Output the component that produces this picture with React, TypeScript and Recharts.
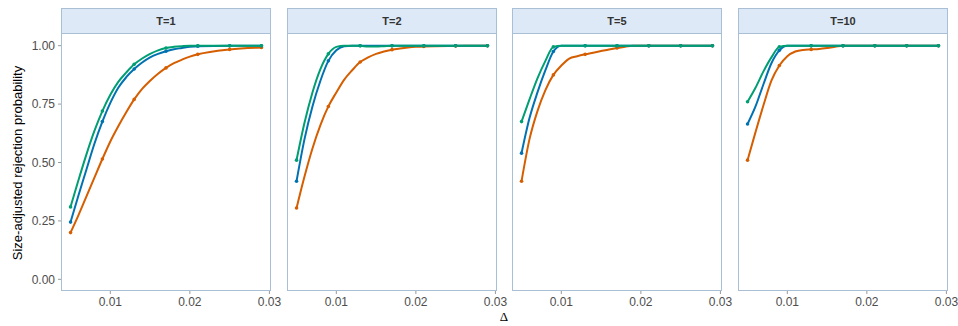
import React from 'react';
import { LineChart, Line, XAxis, YAxis } from 'recharts';

const deltas = [0.005, 0.006, 0.007, 0.008, 0.009, 0.010, 0.011, 0.012, 0.013, 0.014, 0.015, 0.016, 0.017, 0.018, 0.019, 0.020, 0.021, 0.025, 0.029];
const panelLabels = ['T=1', 'T=2', 'T=5', 'T=10'];
const xTicks = [0.01, 0.02, 0.03];
const yTicks = [0, 0.25, 0.5, 0.75, 1];
const markerDeltas = [0.005, 0.009, 0.013, 0.017, 0.021, 0.025, 0.029];

const orangeT1 = [0.20, 0.275, 0.355, 0.435, 0.515, 0.59, 0.655, 0.715, 0.77, 0.815, 0.85, 0.88, 0.905, 0.925, 0.94, 0.953, 0.963, 0.984, 0.992];
const blueT1 = [0.245, 0.36, 0.47, 0.58, 0.675, 0.755, 0.82, 0.865, 0.90, 0.928, 0.95, 0.965, 0.976, 0.985, 0.99, 0.995, 0.998, 1, 1];
const greenT1 = [0.31, 0.425, 0.535, 0.635, 0.72, 0.79, 0.845, 0.885, 0.92, 0.945, 0.965, 0.98, 0.99, 0.995, 0.998, 1, 1, 1, 1];

const orangeT2 = [0.305, 0.44, 0.56, 0.66, 0.74, 0.80, 0.855, 0.895, 0.93, 0.95, 0.965, 0.975, 0.983, 0.988, 0.992, 0.995, 0.997, 0.999, 1];
const blueT2 = [0.42, 0.60, 0.74, 0.85, 0.935, 0.98, 0.998, 1, 1, 1, 1, 1, 1, 1, 1, 1, 1, 1, 1];
const greenT2 = [0.51, 0.67, 0.80, 0.90, 0.965, 0.995, 1, 1, 1, 0.996, 0.996, 0.998, 1, 1, 1, 1, 1, 1, 1];

const orangeT5 = [0.42, 0.60, 0.72, 0.81, 0.875, 0.915, 0.945, 0.955, 0.963, 0.97, 0.977, 0.984, 0.99, 0.995, 1, 1, 1, 1, 1];
const blueT5 = [0.54, 0.69, 0.80, 0.895, 0.975, 1, 1, 1, 1, 1, 1, 1, 1, 1, 1, 1, 1, 1, 1];
const greenT5 = [0.675, 0.77, 0.86, 0.935, 0.995, 1, 1, 1, 1, 1, 1, 1, 1, 1, 1, 1, 1, 1, 1];

const orangeT10 = [0.51, 0.63, 0.745, 0.85, 0.915, 0.955, 0.975, 0.982, 0.984, 0.986, 0.99, 0.995, 1, 1, 1, 1, 1, 1, 1];
const blueT10 = [0.665, 0.74, 0.835, 0.925, 0.98, 1, 1, 1, 1, 1, 1, 1, 1, 1, 1, 1, 1, 1, 1];
const greenT10 = [0.76, 0.82, 0.89, 0.95, 0.995, 1, 1, 1, 1, 1, 1, 1, 1, 1, 1, 1, 1, 1, 1];

const seriesByPanel = [
  [orangeT1, blueT1, greenT1],
  [orangeT2, blueT2, greenT2],
  [orangeT5, blueT5, greenT5],
  [orangeT10, blueT10, greenT10],
];

const COLORS = { orange: '#D55E00', blue: '#0072B2', green: '#009E73' };
const FONT = '"Liberation Sans", Arial, sans-serif';
const BORDER = '#a9bfd6';

const PANEL_LEFTS = [61, 287, 512, 738];
const PANEL_W = 210;
const PLOT_TOP = 34;
const PLOT_H = 257;
const X_AXIS_H = 30;
const RIGHT_PAD = 16;
const Y_AXIS_W = 61;

const makeDot = (color: string) => (props: any) => {
  const { cx, cy, payload, index } = props;
  const show = markerDeltas.some((d) => Math.abs(d - payload.x) < 1e-9);
  if (!show || cx == null || cy == null) return <g key={`d-${index}`} />;
  return <circle key={`d-${index}`} cx={cx} cy={cy} r={1.8} fill={color} stroke="none" />;
};

const tickStyle = { fontFamily: FONT, fontSize: 12, fill: '#4d4d4d' };

export default function App() {
  return (
    <div style={{ position: 'absolute', left: 0, top: 0, width: 958, height: 326, background: '#fff', overflow: 'hidden' }}>
      {PANEL_LEFTS.map((left, i) => (
        <React.Fragment key={`frame-${i}`}>
          <div
            style={{
              position: 'absolute', left, top: 8, width: PANEL_W, height: 26, boxSizing: 'border-box',
              background: '#dde9f6', border: `1px solid ${BORDER}`, textAlign: 'center', lineHeight: '24px',
              fontFamily: FONT, fontSize: 11, fontWeight: 'bold', color: '#333',
            }}
          >
            {panelLabels[i]}
          </div>
          <div
            style={{
              position: 'absolute', left, top: PLOT_TOP - 1, width: PANEL_W, height: PLOT_H + 1, boxSizing: 'border-box',
              border: `1px solid ${BORDER}`, borderTop: 'none',
            }}
          />
        </React.Fragment>
      ))}
      {PANEL_LEFTS.map((left, i) => {
        const [o, b, g] = seriesByPanel[i];
        const data = deltas.map((x, k) => ({ x, orange: o[k], blue: b[k], green: g[k] }));
        const first = i === 0;
        const chartLeft = first ? left - Y_AXIS_W : left;
        const width = (first ? Y_AXIS_W : 0) + PANEL_W + RIGHT_PAD;
        return (
          <div key={`chart-${i}`} style={{ position: 'absolute', left: chartLeft, top: PLOT_TOP }}>
            <LineChart width={width} height={PLOT_H + X_AXIS_H} data={data} margin={{ top: 0, right: RIGHT_PAD, bottom: 0, left: 0 }}>
              <XAxis
                dataKey="x" type="number" domain={[0.0038, 0.0302]} ticks={xTicks}
                tickFormatter={(v: number) => v.toFixed(2)} height={X_AXIS_H}
                axisLine={false} tickLine={{ stroke: '#9a9a9a' }} tickSize={3} tickMargin={3}
                tick={tickStyle} interval={0} allowDataOverflow
              />
              <YAxis
                hide={!first} width={Y_AXIS_W} type="number" domain={[-0.05, 1.05]} ticks={yTicks}
                tickFormatter={(v: number) => v.toFixed(2)} axisLine={false}
                tickLine={{ stroke: '#9a9a9a' }} tickSize={3} tickMargin={3} tick={tickStyle} interval={0}
                allowDataOverflow
              />
              <Line type="monotone" dataKey="orange" stroke={COLORS.orange} strokeWidth={2} dot={makeDot(COLORS.orange)} isAnimationActive={false} />
              <Line type="monotone" dataKey="blue" stroke={COLORS.blue} strokeWidth={2} dot={makeDot(COLORS.blue)} isAnimationActive={false} />
              <Line type="monotone" dataKey="green" stroke={COLORS.green} strokeWidth={2} dot={makeDot(COLORS.green)} isAnimationActive={false} />
            </LineChart>
          </div>
        );
      })}
      <div
        style={{
          position: 'absolute', left: 17, top: 163, transform: 'translate(-50%, -50%) rotate(-90deg)',
          whiteSpace: 'nowrap', fontFamily: FONT, fontSize: 13, color: '#000',
        }}
      >
        Size-adjusted rejection probability
      </div>
      <div
        style={{
          position: 'absolute', left: 504, top: 317, transform: 'translate(-50%, -50%)',
          whiteSpace: 'nowrap', fontFamily: '"Liberation Serif", "DejaVu Serif", serif', fontSize: 13, color: '#000',
        }}
      >
        Δ
      </div>
    </div>
  );
}
